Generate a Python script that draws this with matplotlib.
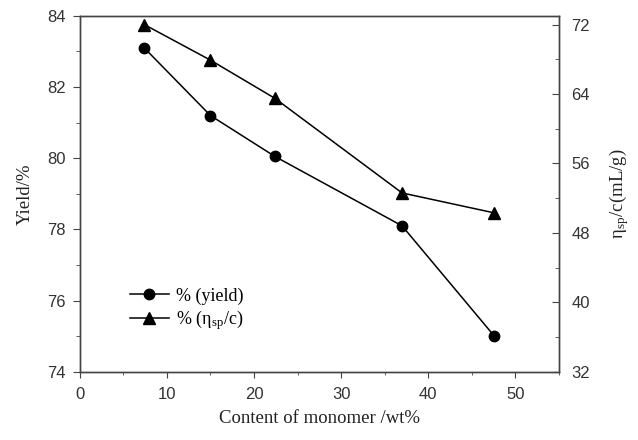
import matplotlib
matplotlib.use("Agg")
import matplotlib.pyplot as plt
from matplotlib.ticker import MultipleLocator

plt.rcParams['mathtext.fontset'] = 'stix'

# monomer content (wt%)
monomer = [7.4, 15.0, 22.4, 37.0, 47.6]
yield_pct = [83.1, 81.2, 80.05, 78.1, 75.0]
eta_sp_c = [72.0, 67.9, 63.5, 52.6, 50.3]

serif = 'Liberation Serif'
sans = 'Liberation Sans'
spine_col = '#444444'
tick_col = '#333333'

fig = plt.figure(figsize=(6.38, 4.4), dpi=100)
ax = fig.add_axes([0.125, 0.155, 0.751, 0.809])
ax2 = ax.twinx()

l1, = ax.plot(monomer, yield_pct, '-o', color='black', lw=1.1, ms=7.5)
l2, = ax2.plot(monomer, eta_sp_c, '-^', color='black', lw=1.1, ms=8.5)

ax.set_xlim(0, 55)
ax.set_ylim(74, 84)
ax2.set_ylim(32, 73)

ax.xaxis.set_major_locator(MultipleLocator(10))
ax.xaxis.set_minor_locator(MultipleLocator(5))
ax.yaxis.set_major_locator(MultipleLocator(2))
ax.yaxis.set_minor_locator(MultipleLocator(1))
ax2.yaxis.set_major_locator(MultipleLocator(8))
ax2.yaxis.set_minor_locator(MultipleLocator(4))

for a in (ax, ax2):
    for s in a.spines.values():
        s.set_color(spine_col)
        s.set_linewidth(1.0)

ax.tick_params(axis='x', which='both', direction='out', top=False, color=spine_col,
               labelcolor=tick_col, labelsize=12, pad=7)
ax.tick_params(axis='x', which='major', length=4)
ax.tick_params(axis='x', which='minor', length=2.5)
ax.tick_params(axis='y', which='both', direction='out', right=False, color=spine_col,
               labelcolor=tick_col, labelsize=12, pad=5)
ax.tick_params(axis='y', which='major', length=5)
ax.tick_params(axis='y', which='minor', length=3)
ax2.tick_params(axis='y', which='both', direction='in', color=spine_col,
                labelcolor=tick_col, labelsize=12, pad=9)
ax2.tick_params(axis='y', which='major', length=5)
ax2.tick_params(axis='y', which='minor', length=3)

for lab in ax.get_xticklabels() + ax.get_yticklabels() + ax2.get_yticklabels():
    lab.set_fontfamily(sans)

ax.set_xlabel('Content of monomer /wt%', fontfamily=serif, fontsize=13.5, color='#222222', labelpad=6)
ax.set_ylabel('Yield/%', fontfamily=serif, fontsize=13.5, color='#222222', labelpad=10)
ax2.set_ylabel('η$_{\\mathregular{sp}}$/c(mL/g)', fontfamily=serif, fontsize=13.5,
               color='#222222', labelpad=12)

ax.legend([l1, l2], ['% (yield)', '% (η$_{\\mathregular{sp}}$/c)'],
          loc='center left', bbox_to_anchor=(0.07, 0.175), frameon=False,
          prop={'family': serif, 'size': 13}, handlelength=2.2,
          handletextpad=0.4, labelspacing=0.2)

fig.savefig('out.png', dpi=100)
